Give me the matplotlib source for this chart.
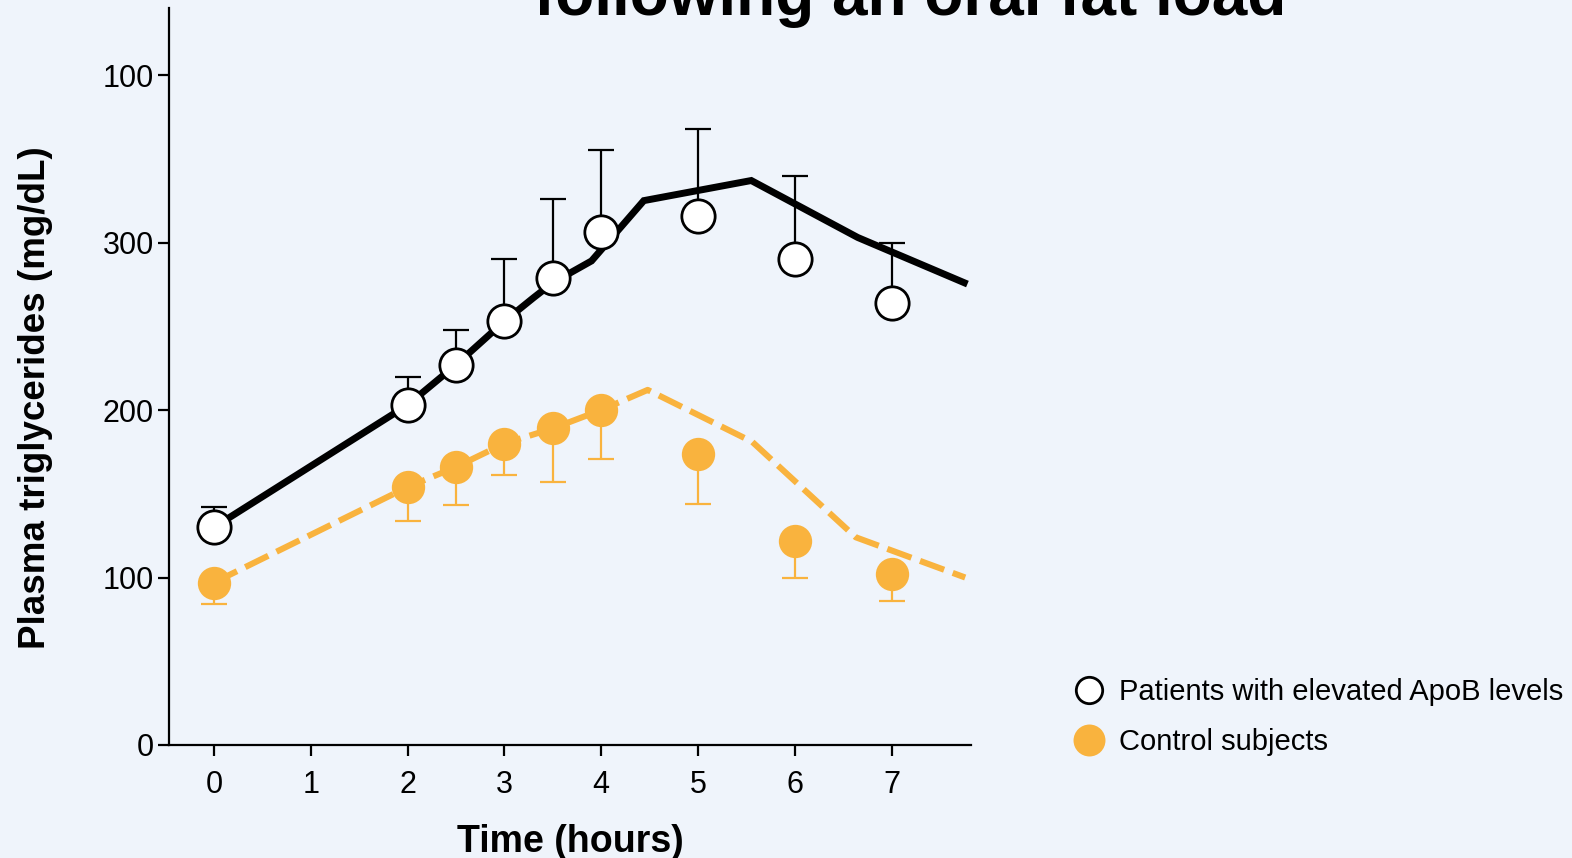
import numpy as np
import matplotlib.pyplot as plt
from matplotlib.lines import Line2D

plt.rcParams['font.family'] = ['Liberation Sans', 'DejaVu Sans']

# measured time points (hours)
time_pts = [0, 2, 2.5, 3, 3.5, 4, 5, 6, 7]

# patients with elevated ApoB: mean and upper SD
apob_mean = [130, 203, 227, 253, 279, 306, 316, 290, 264]
apob_up = [142, 220, 248, 290, 326, 355, 368, 340, 300]

# controls: mean and lower SD
ctrl_mean = [97, 154, 166, 180, 189, 200, 174, 122, 102]
ctrl_low = [84, 134, 143, 161, 157, 171, 144, 100, 86]

# fitted curves
apob_fit_x = [0, 2, 2.5, 3, 3.3, 3.5, 3.9, 4.44, 5.55, 6.65, 7.75]
apob_fit_y = [130, 203, 227, 253, 267, 276, 289, 325, 337, 303, 276]
ctrl_fit_x = [0, 2, 2.5, 3, 3.5, 4, 4.48, 5.56, 6.63, 7.76]
ctrl_fit_y = [97, 154, 166, 180, 189, 200, 212, 181, 124, 100]

x_ticks = [0, 1, 2, 3, 4, 5, 6, 7]
y_ticks = [0, 100, 200, 300, 400]
y_tick_labels = ['0', '100', '200', '300', '100']

bg = '#EFF4FB'
orange = '#F9B33E'

fig = plt.figure(figsize=(15.72, 8.58), dpi=100, facecolor=bg)
ax = fig.add_axes([169 / 1572, 1 - 745 / 858, 802 / 1572, 737 / 858])
ax.set_facecolor(bg)

apob_mean = np.array(apob_mean)
ctrl_mean = np.array(ctrl_mean)
up_err = np.array(apob_up) - apob_mean
low_err = ctrl_mean - np.array(ctrl_low)

# error bars (one-sided)
ax.errorbar(time_pts, apob_mean, yerr=[np.zeros_like(up_err), up_err], fmt='none',
            ecolor='black', elinewidth=1.6, capsize=9.5, capthick=1.6, zorder=2)
ax.errorbar(time_pts, ctrl_mean, yerr=[low_err, np.zeros_like(low_err)], fmt='none',
            ecolor=orange, elinewidth=1.6, capsize=9.5, capthick=1.6, zorder=2)

# fitted lines
ax.plot(apob_fit_x, apob_fit_y, color='black', lw=5.0, solid_joinstyle='miter', zorder=3)
ax.plot(ctrl_fit_x, ctrl_fit_y, color=orange, lw=4.4, dashes=(4.2, 1.5),
        dash_capstyle='butt', zorder=3)

# markers
ax.plot(time_pts, apob_mean, 'o', ms=24, mfc='white', mec='black', mew=2, zorder=4)
ax.plot(time_pts, ctrl_mean, 'o', ms=24, mfc=orange, mec=orange, mew=0, zorder=4)

ax.set_xlim(-0.465, 7.82)
ax.set_ylim(0, 440)
ax.set_xticks(x_ticks)
ax.set_yticks(y_ticks)
ax.set_yticklabels(y_tick_labels)

for s in ['top', 'right']:
    ax.spines[s].set_visible(False)
for s in ['left', 'bottom']:
    ax.spines[s].set_linewidth(1.6)
ax.tick_params(axis='both', length=8, width=1.6, labelsize=22, direction='out')
ax.tick_params(axis='x', pad=10)
ax.tick_params(axis='y', pad=3)

ax.set_xlabel('Time (hours)', fontsize=27, fontweight='bold', labelpad=17)
ax.set_ylabel('Plasma triglycerides (mg/dL)', fontsize=26.5, fontweight='bold', va='center')
ax.yaxis.set_label_coords(-0.166, 0.471)

fig.text(910 / 1572, 1 - 15 / 858, 'following an oral fat load', ha='center', va='baseline',
         fontsize=46, fontweight='bold')

handles = [
    Line2D([], [], ls='none', marker='o', ms=19, mfc='white', mec='black', mew=2),
    Line2D([], [], ls='none', marker='o', ms=23, mfc=orange, mec=orange, mew=0),
]
labels = ['Patients with elevated ApoB levels', 'Control subjects']
fig.legend(handles, labels, loc='center left', bbox_to_anchor=(1074 / 1572, 1 - 717 / 858),
           frameon=False, fontsize=21, handlelength=1.0, handletextpad=0.55,
           labelspacing=0.76, borderpad=0, borderaxespad=0)

fig.savefig('out.png', dpi=100, facecolor=bg)
